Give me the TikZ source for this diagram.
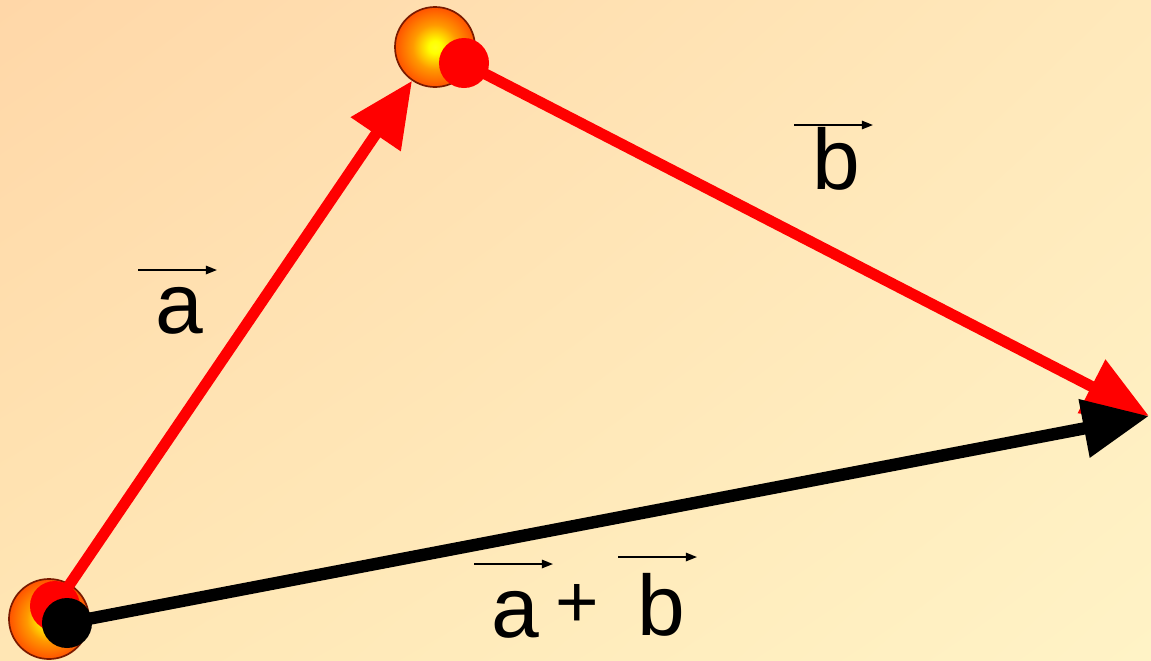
\documentclass[tikz,border=0pt]{standalone}
\usepackage{fontspec}
\setmainfont{Liberation Sans}
\usetikzlibrary{arrows.meta,calc,shadings}

\definecolor{bgtl}{HTML}{FFD7A8}
\definecolor{bgtr}{HTML}{FFE9BB}
\definecolor{bgbl}{HTML}{FFE6B4}
\definecolor{bgbr}{HTML}{FFF3C6}
\definecolor{vecred}{HTML}{FF0000}
\definecolor{ballrim}{HTML}{7A1A00}

\pgfdeclareradialshading{ballshade}{\pgfpoint{0bp}{0bp}}{%
  color(0bp)=(yellow!90!white); color(4bp)=(yellow); color(14bp)=(orange!80!yellow);
  color(25bp)=(red!35!orange); color(50bp)=(red!35!orange)}

\pgfdeclarelayer{back}
\pgfdeclarelayer{front}
\pgfsetlayers{back,main,front}

\begin{document}
\begin{tikzpicture}[
    x=0.025cm, y=-0.025cm,
    ball/.style={circle, draw=ballrim, line width=1.2pt, minimum size=2cm, inner sep=0pt, shading=ballshade},
    reddot/.style={circle, fill=vecred, minimum size=1.25cm, inner sep=0pt},
    blackdot/.style={circle, fill=black, minimum size=1.25cm, inner sep=0pt},
    redvec/.style={draw=vecred, line width=7.9pt, -{Triangle[length=46pt, width=41pt]}},
    blackvec/.style={draw=black, line width=8.8pt, -{Triangle[length=47pt, width=40pt]}},
    overvec/.style={line width=1.3pt, -{Triangle[length=8pt, width=6pt]}},
    lbl/.style={font=\fontsize{61}{61}\selectfont, inner sep=0pt, anchor=base},
    plus/.style={font=\fontsize{53}{53}\selectfont, inner sep=0pt, anchor=base}
]
\useasboundingbox (0,0) rectangle (1151,660);
\begin{pgfonlayer}{back}
  \shade[upper left=bgtl, upper right=bgtr, lower left=bgbl, lower right=bgbr] (0,0) rectangle (1151,660);
\end{pgfonlayer}

% points
\node[ball] (org) at (49,619) {};
\begin{pgfonlayer}{front}
  \node[ball] (top) at (435,47) {};
  \node[reddot] (topdot) at (464,63) {};
  \node[reddot] (orgdot) at (55,606) {};
  \node[blackdot] (blkdot) at (67,623) {};
\end{pgfonlayer}
\coordinate (tip) at (1149,416);

% vectors
\draw[redvec] (orgdot.center) -- (top);
\draw[redvec] (topdot.center) -- (tip);
\draw[blackvec] (blkdot.center) -- (tip);

% labels
\node[lbl] (la) at (179,333) {a};
\node[lbl] (lb) at (836,189) {b};
\node[lbl] (sa) at (515,637) {a};
\node[plus] (sp) at (577,627) {+};
\node[lbl] (sb) at (661,635) {b};

\draw[overvec] ($(la.base)+(-41,-63)$) -- ++(79,0);
\draw[overvec] ($(lb.base)+(-42,-64)$) -- ++(79,0);
\draw[overvec] ($(sa.base)+(-41,-73)$) -- ++(79,0);
\draw[overvec] ($(sb.base)+(-43,-78)$) -- ++(79,0);
\end{tikzpicture}
\end{document}
